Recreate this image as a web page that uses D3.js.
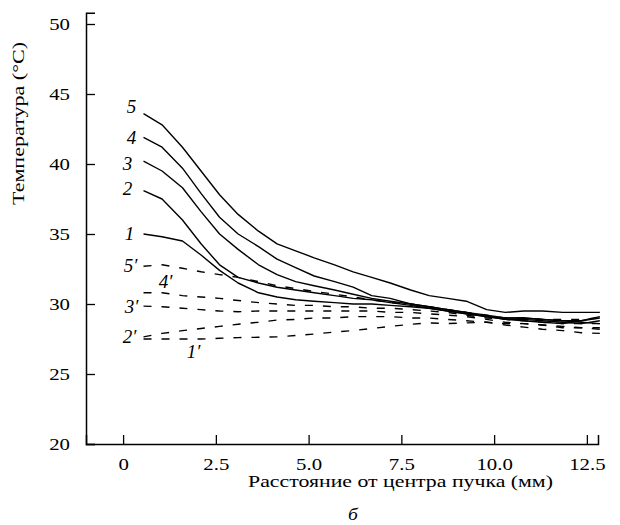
<!DOCTYPE html>
<html><head><meta charset="utf-8">
<script src="https://cdn.jsdelivr.net/npm/d3@7"></script>
<style>body{margin:0;background:#fff}</style>
</head><body>
<svg id="chart" width="620" height="525"></svg>
<script>
// ---- data ----
const distance = [0.55,1.05,1.6,2.1,2.6,3.1,3.65,4.15,4.65,5.15,5.7,6.2,6.7,7.2,7.75,8.25,8.75,9.25,9.8,10.3,10.8,11.3,11.85,12.35,12.85];
const curve5 = [43.6,42.8,41.2,39.5,37.8,36.4,35.2,34.3,33.8,33.3,32.8,32.3,31.9,31.5,31.0,30.6,30.4,30.2,29.6,29.4,29.5,29.5,29.4,29.4,29.4];
const curve4 = [41.9,41.2,39.7,37.9,36.2,35.0,34.1,33.2,32.6,32.0,31.6,31.2,30.6,30.4,30.0,29.8,29.6,29.4,29.2,29.0,29.0,28.9,28.8,28.8,29.0];
const curve3 = [40.2,39.5,38.3,36.6,35.0,33.9,32.8,32.1,31.6,31.3,31.0,30.7,30.4,30.2,30.0,29.8,29.6,29.4,29.1,29.0,29.0,28.9,28.8,28.7,28.6];
const curve2 = [38.1,37.5,36.0,34.3,32.8,31.9,31.5,31.2,31.0,30.8,30.6,30.4,30.3,30.1,29.9,29.7,29.5,29.3,29.1,28.9,28.9,28.8,28.7,28.6,28.8];
const curve1 = [35.0,34.8,34.5,33.5,32.4,31.5,30.8,30.5,30.3,30.2,30.1,30.0,30.0,29.9,29.8,29.7,29.5,29.3,29.1,28.9,28.8,28.7,28.6,28.8,29.1];
const curve5p = [32.7,32.8,32.55,32.3,32.1,31.9,31.6,31.3,31.1,30.9,30.7,30.5,30.3,30.1,30.0,29.8,29.6,29.4,29.2,29.0,29.0,28.9,28.9,28.9,29.0];
const curve4p = [30.8,30.8,30.6,30.5,30.4,30.25,30.1,30.0,29.9,29.9,29.8,29.8,29.7,29.7,29.6,29.5,29.4,29.2,29.0,28.9,28.8,28.7,28.6,28.6,28.6];
const curve3p = [29.85,29.8,29.7,29.6,29.5,29.45,29.5,29.5,29.5,29.5,29.5,29.5,29.5,29.4,29.4,29.3,29.2,29.1,28.9,28.7,28.6,28.5,28.4,28.3,28.3];
const curve2p = [27.65,27.9,28.1,28.25,28.4,28.55,28.7,28.85,28.9,29.0,29.0,29.1,29.1,29.1,29.0,29.0,28.9,28.8,28.7,28.6,28.6,28.5,28.3,28.3,28.2];
const curve1p = [27.5,27.5,27.5,27.5,27.55,27.6,27.62,27.65,27.75,27.85,28.0,28.1,28.25,28.4,28.55,28.65,28.6,28.65,28.7,28.5,28.35,28.2,28.1,27.95,27.9];
const seriesNames = ["5","4","3","2","1","5′","4′","3′","2′","1′"];
const yTicks = [20,25,30,35,40,45,50];
const xTicks = [0,2.5,5,7.5,10,12.5];
const xTickLabels = ["0","2.5","5.0","7.5","10.0","12.5"];
const yTitle = "Температура (°C)";
const xTitle = "Расстояние от центра пучка (мм)";
const panelLabel = "б";

// ---- layout ----
const FONT = "Liberation Serif";
const labelOffsets = [[-12,-1],[-12,7],[-16,9],[-16,4],[-14,6],[-13,6],[22,-5],[-12,6.5],[-14,6.5],[50,19]];
const seriesValues = [curve5,curve4,curve3,curve2,curve1,curve5p,curve4p,curve3p,curve2p,curve1p];
const tickStretch = 1.3;

const svg = d3.select("#chart");
const x = d3.scaleLinear().domain([-1.0, 12.8]).range([86, 598]);
const y = d3.scaleLinear().domain([20, 50.8]).range([444, 12.8]);

const xAxis = d3.axisBottom(x).tickValues(xTicks).tickFormat((d,i)=>xTickLabels[i]).tickSize(-9).tickPadding(15);
const yAxis = d3.axisLeft(y).tickValues(yTicks).tickFormat(d3.format("d")).tickSize(-9).tickPadding(16);

const gx = svg.append("g").attr("transform","translate(0,444)").call(xAxis);
const gy = svg.append("g").attr("transform","translate(86,0)").call(yAxis);
[gx,gy].forEach(g=>{
  g.attr("font-family", FONT).attr("font-size",16);
  g.select(".domain").attr("stroke","#000").attr("stroke-width",1.5);
  g.selectAll(".tick line").attr("stroke","#000").attr("stroke-width",1.3);
  g.selectAll(".tick text").attr("font-family", FONT).attr("font-size",16).attr("fill","#000");
});
// widen tick labels horizontally (reference glyphs are wide)
gx.selectAll(".tick text").attr("transform", `scale(${tickStretch},1)`);
gy.selectAll(".tick text").attr("x", -16 / tickStretch).attr("transform", `scale(${tickStretch},1)`);

const line = d3.line().x((d,i)=>x(distance[i])).y(d=>y(d));
seriesValues.forEach((vals,k)=>{
  const dashed = seriesNames[k].includes("′");
  svg.append("path").attr("d", line(vals)).attr("fill","none")
    .attr("stroke","#000").attr("stroke-width",1.4)
    .attr("stroke-dasharray", dashed ? "8,10" : null)
    .attr("stroke-linejoin","round");
  const off = labelOffsets[k];
  svg.append("text").attr("x", x(distance[0]) + off[0]).attr("y", y(vals[0]) + off[1])
    .attr("text-anchor","middle").attr("font-size",19).attr("font-style","italic")
    .attr("font-family", FONT)
    .text(seriesNames[k]);
});

function stretchedText(cx, cy, rot, size, italic, str, targetWidth, fallback){
  const g = svg.append("g");
  const t = g.append("text").attr("text-anchor","middle").attr("font-size",size)
    .attr("font-family", FONT).attr("font-style", italic ? "italic" : null).text(str);
  let sx = fallback;
  try { const w = t.node().getComputedTextLength(); if (w > 0 && targetWidth) sx = targetWidth / w; } catch(e) {}
  g.attr("transform", `translate(${cx},${cy}) rotate(${rot}) scale(${sx},1)`);
}
stretchedText(24, 123.5, -90, 16, false, yTitle, 163, 1.35);
stretchedText(400.5, 487, 0, 17, false, xTitle, 305, 1.3);
stretchedText(353, 520, 0, 17, true, panelLabel, null, 1.15);
</script>
</body></html>
